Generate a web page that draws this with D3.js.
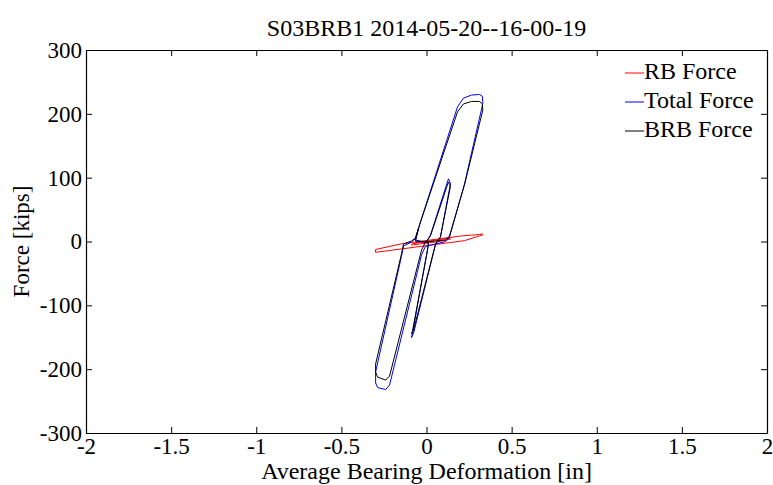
<!DOCTYPE html>
<html>
<head>
<meta charset="utf-8">
<script src="https://cdn.jsdelivr.net/npm/d3@7"></script>
<style>
  body { margin: 0; background: #fff; }
  text { font-family: "Liberation Serif", "Times New Roman", serif; fill: #000; }
</style>
</head>
<body>
<div id="chart"></div>
<script>
// hysteresis samples: average bearing deformation [in] and forces [kips]
const deformation = [0, 0.023, 0.117, 0.129, 0.141, 0.082, 0.065, 0.053, -0.076, -0.088, -0.082, 0.006, 0.012,
  -0.065, -0.041, 0.182, 0.217, 0.264, 0.311, 0.328, 0.331, 0.223, 0.135, 0.111, -0.006, -0.029,
  -0.217, -0.240, -0.287, -0.299, -0.299, -0.147, -0.135, -0.088, -0.065, -0.047];
const brbForce = [0, 8.6, 83.9, 93.3, 87.0, 7.1, 0.8, -3.9, -138.7, -145, -140, -13.3, -2.4,
  2.4, 25.9, 203, 215.5, 219.4, 219.4, 215.5, 206, 88.6, 8.6, 2.4, -0.8, -13.3,
  -210.8, -217.1, -212.4, -204.5, -192, -19.6, -3.9, 0.8, 5.5, 21];
const rbForce = [0, 1.3, 4.5, 4.9, 4.0, 0.3, -0.3, -0.7, -5.1, -5.5, -3.5, 0.7, 0.9,
  -2.0, 0.1, 7.9, 9.1, 10.0, 11.0, 12.0, 10.5, 1.3, -1.8, -2.6, -6.7, -7.5,
  -14.1, -14.9, -16.5, -17.0, -12.5, -3.6, -3.2, -1.6, -0.8, -0.2];
const totalForce = [0, 9.9, 88.4, 98.2, 91.0, 7.4, 0.5, -4.6, -143.8, -150.5, -143.5, -12.6, -1.5,
  0.4, 26.0, 210.9, 224.6, 229.4, 230.4, 227.5, 216.5, 89.9, 6.8, -0.2, -7.5, -20.8,
  -224.9, -232.0, -228.9, -221.5, -204.5, -23.2, -7.1, -0.8, 4.7, 20.8];

const seriesNames = ["RB Force", "Total Force", "BRB Force"];
const seriesColors = ["#ff0000", "#0000ff", "#000000"];
const xTicks = [-2, -1.5, -1, -0.5, 0, 0.5, 1, 1.5, 2];
const yTicks = [-300, -200, -100, 0, 100, 200, 300];

const width = 773, height = 485;
const margin = { top: 50, right: 6, bottom: 52, left: 86 };
const tickFont = 23, labelFont = 24;

const svg = d3.select("#chart").append("svg")
  .attr("width", width)
  .attr("height", height);

const x = d3.scaleLinear().domain([-2, 2]).range([margin.left, width - margin.right]);
const y = d3.scaleLinear().domain([-300, 300]).range([height - margin.bottom, margin.top]);

// title
svg.append("text")
  .attr("x", (x(-2) + x(2)) / 2)
  .attr("y", 36)
  .attr("text-anchor", "middle")
  .style("font-size", labelFont + "px")
  .text("S03BRB1 2014-05-20--16-00-19");

// data lines, plotted in legend order
const series = [rbForce, totalForce, brbForce];
const line = d3.line()
  .x((d, i) => x(deformation[i]))
  .y(d => y(d));

svg.append("g")
  .selectAll("path")
  .data(series)
  .join("path")
  .attr("fill", "none")
  .attr("stroke", (d, i) => seriesColors[i])
  .attr("stroke-width", 1)
  .attr("stroke-linejoin", "round")
  .attr("d", line);

// axes, ticks pointing inward on all four sides (matlab style)
const tickLen = 6;
svg.append("g")
  .attr("transform", `translate(0,${y(-300)})`)
  .call(d3.axisBottom(x).tickValues(xTicks).tickSizeInner(-tickLen).tickSizeOuter(0).tickPadding(5).tickFormat(d => String(d)))
  .call(g => g.selectAll("text").style("font-size", tickFont + "px"));
svg.append("g")
  .attr("transform", `translate(0,${y(300)})`)
  .call(d3.axisTop(x).tickValues(xTicks).tickSizeInner(-tickLen).tickSizeOuter(0).tickFormat(""));
svg.append("g")
  .attr("transform", `translate(${x(-2)},0)`)
  .call(d3.axisLeft(y).tickValues(yTicks).tickSizeInner(-tickLen).tickSizeOuter(0).tickPadding(4).tickFormat(d => String(d)))
  .call(g => g.selectAll("text").style("font-size", tickFont + "px"));
svg.append("g")
  .attr("transform", `translate(${x(2)},0)`)
  .call(d3.axisRight(y).tickValues(yTicks).tickSizeInner(-tickLen).tickSizeOuter(0).tickFormat(""));

svg.selectAll(".domain").attr("stroke", "#000").attr("stroke-width", 1.2);
svg.selectAll(".tick line").attr("stroke", "#000");

// axis labels
svg.append("text")
  .attr("x", (x(-2) + x(2)) / 2)
  .attr("y", 479)
  .attr("text-anchor", "middle")
  .style("font-size", labelFont + "px")
  .text("Average Bearing Deformation [in]");

svg.append("text")
  .attr("transform", `translate(29,${y(0)}) rotate(-90)`)
  .attr("text-anchor", "middle")
  .style("font-size", tickFont + "px")
  .text("Force [kips]");

// legend
const legend = svg.append("g").attr("transform", "translate(625,73)");
const rows = legend.selectAll("g")
  .data(seriesNames)
  .join("g")
  .attr("transform", (d, i) => `translate(0,${i * 29})`);
rows.append("line")
  .attr("x1", 0).attr("x2", 19)
  .attr("stroke", (d, i) => seriesColors[i])
  .attr("stroke-width", 1);
rows.append("text")
  .attr("x", 19)
  .attr("y", 6)
  .style("font-size", labelFont + "px")
  .text(d => d);
</script>
</body>
</html>
